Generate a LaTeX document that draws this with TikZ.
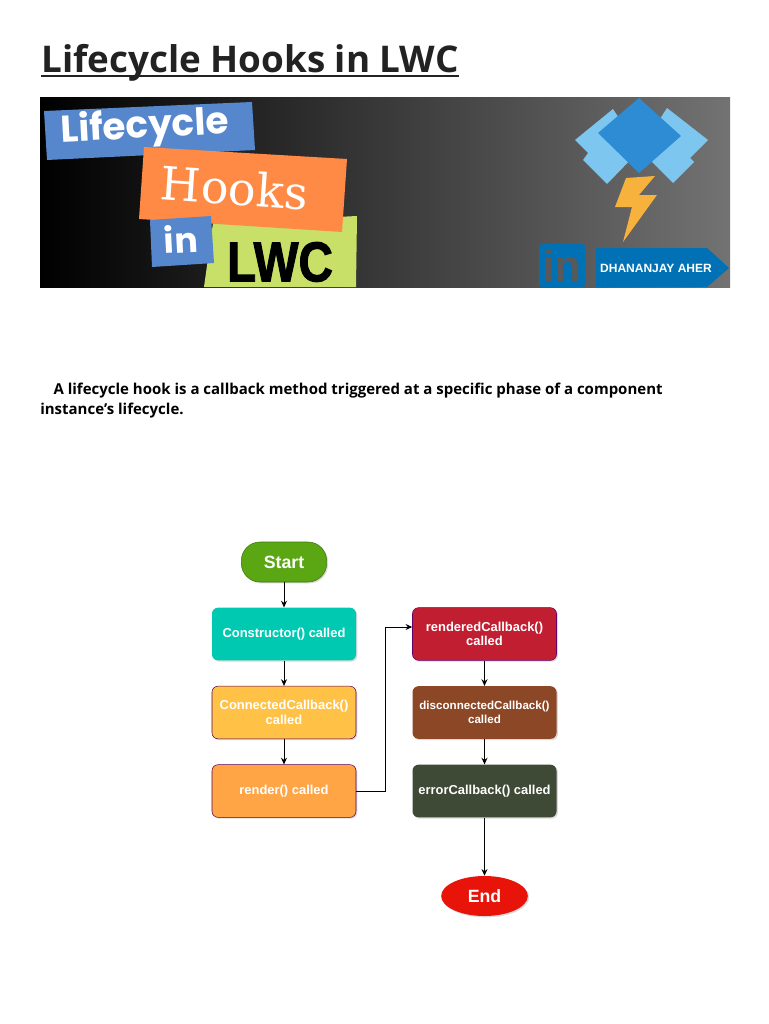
\documentclass[tikz,border=0pt]{standalone}
\usepackage{fontspec}
\setmainfont{Open Sans}
\newfontfamily\flowfont{Liberation Sans}
\newfontfamily\hooksfont{DejaVu Serif}
\newfontfamily\tagfont{Poppins}
\newfontfamily\heavyfont[FakeBold=2]{Liberation Sans}
\usepackage{xcolor}
\usetikzlibrary{shapes,arrows.meta,positioning,calc,shadows}
\definecolor{startgreen}{RGB}{90, 167, 19}
\definecolor{constructorteal}{RGB}{0, 201, 177}
\definecolor{connectedyellow}{RGB}{255, 194, 71}
\definecolor{renderorange}{RGB}{255, 165, 69}
\definecolor{renderedred}{RGB}{194, 30, 50}
\definecolor{disconnectedbrown}{RGB}{139, 71, 38}
\definecolor{errorgreen}{RGB}{63, 74, 54}
\definecolor{endred}{RGB}{232, 20, 10}
\definecolor{tagblue}{RGB}{86, 135, 205}
\definecolor{tagorange}{RGB}{255, 138, 70}
\definecolor{taggreen}{RGB}{200, 224, 104}
\definecolor{linkblue}{RGB}{0, 113, 181}
\definecolor{lightdiamond}{RGB}{125, 198, 240}
\definecolor{darkdiamond}{RGB}{45, 140, 212}
\definecolor{boltyellow}{RGB}{247, 178, 62}
\definecolor{inkblack}{RGB}{34, 34, 34}

\begin{document}
\begin{tikzpicture}[
    x=0.75pt, y=-0.75pt,
    step box/.style={rectangle, rounded corners=4.5pt, inner sep=0pt, minimum width=108pt, minimum height=39.5pt, align=center, text=white, font=\flowfont\bfseries\fontsize{9.7}{10.8}\selectfont, drop shadow={shadow xshift=1pt, shadow yshift=-1pt, opacity=0.3}},
    terminal/.style={minimum width=65pt, minimum height=30pt, inner sep=0pt, text=white, font=\flowfont\bfseries\fontsize{13.3}{15}\selectfont, drop shadow={shadow xshift=1pt, shadow yshift=-1pt, opacity=0.3}},
    arrow/.style={-{Stealth[length=5pt,width=4.5pt]}, black, line width=0.7pt}
]
\useasboundingbox (0,0) rectangle (768,1024);

\node[anchor=base west, inner sep=0pt, text=inkblack, font=\fontsize{27.6}{32}\selectfont\bfseries] (title) at (41,73) {Lifecycle Hooks in LWC};
\draw[inkblack, line width=1.5pt] ([yshift=-2.2pt]title.base west) -- ([yshift=-2.2pt]title.base east);

% banner
\shade[left color=black, right color=black!55] (40,97) rectangle (730,287);
\fill[tagblue] (44,111) -- (252,102) -- (255,150) -- (47,160) -- cycle;
\fill[taggreen] (213,223) -- (357,216) -- (356,287) -- (204,287) -- cycle;
\fill[tagorange] (144,147) -- (347,159) -- (342,232) -- (139,219) -- cycle;
\fill[tagblue] (150,220) -- (211,216) -- (214,263) -- (152,267) -- cycle;
\node[white, rotate=3, font=\tagfont\bfseries\fontsize{28}{32}\selectfont] (lifecycle) at (145,128) {Lifecycle};
\node[white, rotate=-4, font=\hooksfont\fontsize{34.5}{38}\selectfont] (hooks) at (234.5,188) {Hooks};
\node[white, rotate=3, font=\tagfont\bfseries\fontsize{26}{30}\selectfont] (in) at (181,239) {in};
\node[black, font=\heavyfont\bfseries\fontsize{42}{44}\selectfont, xscale=0.85] (lwc) at (280,262) {LWC};

% logo
\fill[lightdiamond] (613,109) -- (575,140) -- (588,153) -- (583,160) -- (607,184) -- (640,150) -- cycle;
\fill[lightdiamond] (667,108) -- (708,140) -- (690,158) -- (694,162) -- (673,183) -- (640,150) -- cycle;
\fill[darkdiamond] (639,98) -- (681,136) -- (639,173) -- (598,133) -- cycle;
\fill[boltyellow] (655,176) -- (626,178) -- (615,207) -- (632,207) -- (623,242) -- (657,195) -- (639,195) -- cycle;
\node[fill=linkblue, rounded corners=2pt, minimum width=34.5pt, minimum height=32pt, inner sep=0pt, text=black!65, font=\flowfont\bfseries\fontsize{33}{33}\selectfont] (linkedin) at (562,265.5) {\raisebox{-3pt}{in}};
\fill[linkblue] (596,248) -- (707,248) -- (729,268) -- (707,287) -- (596,287) -- cycle;
\node[white, font=\flowfont\bfseries\fontsize{9}{10}\selectfont] (author) at (656,268) {DHANANJAY AHER};

% intro text
\node[anchor=north west, inner sep=0pt, align=left, text=black, font=\fontsize{11.25}{15}\selectfont\bfseries] (intro) at (40,383) {\hspace*{10pt}A lifecycle hook is a callback method triggered at a specific phase of a component\\instance’s lifecycle.};

% flow nodes
\node[terminal, rounded corners=14pt, fill=startgreen, draw=startgreen!70!black, minimum width=64pt] (start) at (284,562) {Start};

\node[step box, fill=constructorteal] (constructor) at (284,634) {Constructor() called};
\node[step box, fill=connectedyellow, draw=violet!70!black, line width=0.4pt] (connected) at (284,712.5) {ConnectedCallback()\\called};
\node[step box, fill=renderorange, draw=violet!70!black, line width=0.4pt] (render) at (284,791) {render() called};

\node[step box, fill=renderedred, draw=violet!80!black, line width=0.4pt] (rendered) at (484.5,634) {renderedCallback()\\called};
\node[step box, fill=disconnectedbrown, font=\flowfont\bfseries\fontsize{8.7}{10.8}\selectfont] (disconnected) at (484.5,712.5) {disconnectedCallback()\\called};
\node[step box, fill=errorgreen] (error) at (484.5,791) {errorCallback() called};

\node[terminal, ellipse, fill=endred] (end) at (484.5,896) {End};

\coordinate (bend) at (385,627);

\draw[arrow] (start) -- (constructor);
\draw[arrow] (constructor) -- (connected);
\draw[arrow] (connected) -- (render);
\draw[arrow] (render.east) -| (bend) -- ([yshift=5.25pt]rendered.west);
\draw[arrow] (rendered) -- (disconnected);
\draw[arrow] (disconnected) -- (error);
\draw[arrow] (error) -- (end);

\end{tikzpicture}
\end{document}
